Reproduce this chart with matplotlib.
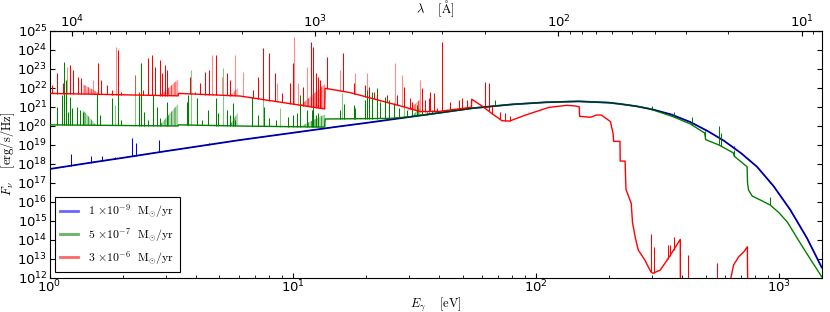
import numpy as np
import matplotlib
matplotlib.use("Agg")
import matplotlib.pyplot as plt
from matplotlib.lines import Line2D
from matplotlib.patches import Polygon
from matplotlib.ticker import LogLocator, NullLocator

# ---------------- data (log10 F_nu) ----------------
blue_E = [1.0, 1.5, 2.0, 3.0, 4.0, 6.0, 10, 15, 20, 30, 40, 55, 80, 110, 150, 200,
          223, 260, 305, 360, 432, 510, 593, 700, 813, 952, 1115, 1306, 1500]
blue_F = [17.72, 18.07, 18.31, 18.66, 18.90, 19.24, 19.63, 19.94, 20.15, 20.46, 20.68,
          20.93, 21.13, 21.24, 21.29, 21.22, 21.15, 21.03, 20.85, 20.60, 20.20, 19.72,
          19.22, 18.55, 17.84, 16.81, 15.56, 14.07, 12.53]
blue_line_E = [1.226, 1.486, 1.644, 1.866, 2.178, 2.276, 2.81, 4.53, 655, 922]
blue_line_F = [18.51, 18.41, 18.39, 18.35, 19.37, 19.09, 19.27, 19.08, 18.92, 16.98]

green_E = [1.0, 3.38, 3.39, 6.0, 13.55, 13.6, 25, 30, 40, 55, 80, 110, 150, 200, 223,
           260, 290, 330, 369, 432, 495, 500, 566, 650, 655, 740, 743, 750, 776, 850,
           922, 1000, 1081, 1226, 1350, 1500]
green_F = [20.05, 19.99, 20.05, 19.99, 19.93, 20.36, 20.39, 20.47, 20.68, 20.93, 21.13,
           21.24, 21.29, 21.22, 21.15, 21.03, 20.92, 20.68, 20.47, 20.10, 19.62, 19.27,
           18.99, 18.57, 18.40, 17.84, 17.00, 16.62, 16.30, 16.05, 15.82, 15.42, 14.94,
           13.80, 12.95, 12.04]
green_line_E = [1.07, 1.129, 1.151, 1.166, 1.195, 1.218, 1.242, 1.302, 1.335, 1.369,
                1.573, 1.614, 1.803, 1.908, 1.963, 2.342, 2.379, 2.456, 2.551, 2.658,
                2.761, 2.849, 3.035, 3.668, 3.727, 4.033, 4.229, 4.504, 4.845, 4.953,
                5.359, 5.531, 5.708, 5.799, 6.792, 7.235, 7.633, 8.029, 8.553, 9.612,
                10.08, 10.40, 10.74, 11.44, 11.99, 12.18, 12.49, 12.77, 15.69, 16.19,
                17.80, 18.08, 19.88, 20.20, 20.52, 21.17, 22.20, 22.91, 24.03, 24.80,
                26.00, 27.26, 29.49, 30.93, 32.43, 34.01, 35.66, 37.38, 68.12, 300.8,
                369, 440, 498, 566, 580, 655, 922]
green_line_F = [20.99, 21.62, 23.35, 22.42, 20.74, 21.54, 20.92, 20.99, 20.83, 20.74,
                21.71, 20.57, 21.45, 21.71, 20.31, 21.62, 23.30, 20.74, 20.31, 21.62,
                21.01, 20.40, 21.27, 21.27, 21.62, 21.45, 20.31, 20.83, 21.45, 20.66,
                20.83, 20.57, 21.19, 20.31, 21.54, 20.57, 21.01, 20.40, 20.31, 20.48,
                20.57, 20.66, 21.62, 20.83, 20.83, 21.27, 20.57, 20.66, 20.83, 21.15,
                21.10, 20.92, 21.36, 21.89, 21.54, 21.80, 21.98, 21.27, 21.54, 21.36,
                21.19, 20.92, 20.83, 21.01, 21.10, 21.01, 20.74, 20.83, 21.36, 21.04,
                20.75, 20.45, 19.74, 19.99, 19.60, 18.72, 16.26]
green_faint_E = [1.860, 2.248, 3.810, 5.160, 7.586, 8.884, 15.94, 28.58]
green_faint_F = [21.10, 22.68, 22.94, 23.03, 21.45, 20.92, 21.71, 21.62]

red_E = [1.0, 3.38, 3.39, 6.08, 13.55, 13.6, 17.24, 27.7, 33.4, 40, 54.4, 54.5, 60, 66,
         72.6, 78, 90, 113, 134, 145, 151, 151.5, 168, 178, 186, 203, 205, 208, 209, 222,
         222.5, 233, 235, 247, 250, 257, 264, 281, 297, 303, 325, 347, 369, 393, 393.5,
         612, 651, 684, 718, 742, 745]
red_F = [21.71, 21.58, 21.71, 21.57, 20.89, 21.98, 21.75, 21.05, 20.75, 20.76, 20.98,
         21.40, 21.05, 20.65, 20.27, 20.25, 20.55, 20.97, 21.08, 21.05, 21.00, 20.50,
         20.45, 20.57, 20.57, 20.22, 19.95, 19.60, 19.18, 19.18, 18.14, 18.14, 16.65,
         15.91, 14.90, 14.07, 13.45, 12.92, 12.31, 12.22, 12.39, 12.92, 13.45, 14.01,
         11.0, 11.0, 12.66, 13.10, 13.36, 13.62, 11.0]
red_line_E = [1.02, 1.07, 1.14, 1.214, 1.254, 1.314, 1.348, 1.578, 1.629, 1.719, 1.803,
              1.920, 1.969, 2.342, 2.433, 2.551, 2.633, 2.718, 2.849, 2.894, 2.987, 3.035,
              3.786, 3.970, 4.162, 4.364, 4.532, 4.845, 5.359, 5.531, 6.857, 7.235, 7.586,
              8.029, 8.472, 9.025, 9.766, 10.08, 11.08, 11.92, 12.11, 12.49, 12.77, 12.98,
              13.91, 16.09, 17.80, 19.88, 20.52, 21.51, 22.20, 22.91, 24.41, 26.84, 28.58,
              30.44, 30.93, 34.01, 35.10, 36.22, 36.80, 37.98, 39.19, 41.11, 44.48, 48.13,
              49.68, 52.09, 61.97, 63.96, 66.1, 71.4, 74.9, 78.5, 298.7, 305.2, 350,
              355.6, 369.2, 423, 557]
red_line_F = [22.15, 22.77, 22.24, 23.21, 22.94, 22.59, 22.50, 23.30, 22.42, 22.15, 21.89,
              24.00, 21.80, 21.80, 21.89, 23.56, 23.73, 23.12, 23.47, 22.77, 23.21, 22.94,
              22.59, 21.80, 22.24, 22.85, 22.94, 23.73, 22.77, 22.42, 21.89, 22.59, 24.09,
              23.82, 22.77, 21.71, 22.24, 23.30, 22.06, 24.44, 24.17, 22.77, 22.59, 22.42,
              23.65, 23.82, 22.24, 22.15, 22.06, 21.80, 21.62, 21.36, 21.62, 21.62, 22.06,
              21.45, 21.27, 21.98, 21.36, 21.45, 21.80, 21.71, 20.92, 24.44, 21.27, 21.36,
              21.45, 21.36, 22.33, 22.27, 21.10, 20.74, 20.66, 20.50, 14.28, 13.62, 13.71,
              13.71, 14.15, 13.19, 12.75]
red_faint_E = [1.177, 1.515, 1.878, 2.248, 4.649, 5.111, 5.799, 6.276, 8.607, 10.17,
               10.57, 11.44, 15.69, 18.08, 20.20, 26.41, 28.13, 33.47]
red_faint_F = [23.12, 22.42, 24.17, 22.68, 23.73, 22.59, 23.73, 22.85, 22.24, 24.70,
               22.24, 23.12, 22.94, 22.77, 22.77, 23.30, 22.68, 22.42]

# dense line clusters: start energy, end energy, log top at start, log top at end
green_clu_E0 = [1.37, 2.85, 5.50, 10.7, 30.5]
green_clu_E1 = [1.55, 3.38, 5.95, 13.55, 33.5]
green_clu_T0 = [20.85, 20.05, 20.00, 19.95, 20.45]
green_clu_T1 = [20.05, 21.15, 20.70, 20.60, 20.95]
red_clu_E0 = [1.37, 2.85, 5.50, 10.7, 30.0]
red_clu_E1 = [1.60, 3.38, 5.95, 13.55, 33.4]
red_clu_T0 = [22.20, 21.60, 21.55, 21.05, 20.80]
red_clu_T1 = [21.72, 22.45, 22.00, 22.20, 21.40]

labels = [r'$1\ {\times}10^{-9}\ \ \mathrm{M}_{\odot}/\mathrm{yr}$',
          r'$5\ {\times}10^{-7}\ \ \mathrm{M}_{\odot}/\mathrm{yr}$',
          r'$3\ {\times}10^{-6}\ \ \mathrm{M}_{\odot}/\mathrm{yr}$']
colors = ['#0000ff', '#008000', '#ff0000']

# ---------------- figure ----------------
plt.rcParams['hatch.linewidth'] = 0.6
W, H = 830, 312
fig = plt.figure(figsize=(W / 100, H / 100), dpi=100)
L, R, T, B = 49.5, 821.7, 31.0, 277.5
ax = fig.add_axes([L / W, 1 - B / H, (R - L) / W, (B - T) / H])


def base_at(E, cE, cF):
    return np.interp(np.log10(E), np.log10(cE), cF)


def draw_series(cE, cF, lE, lF, fE, fF, c0, c1, t0, t1, color, lw_cont=1.0):
    cE = np.asarray(cE, float)
    cF = np.asarray(cF, float)
    for e0, e1, a, b in zip(c0, c1, t0, t1):
        b0 = base_at(e0, cE, cF)
        b1 = base_at(e1, cE, cF)
        verts = [(e0, 10 ** b0), (e0, 10 ** a), (e1, 10 ** b), (e1, 10 ** b1)]
        ax.add_patch(Polygon(verts, closed=True, facecolor=color, edgecolor='none',
                             alpha=0.3, zorder=2))
        ax.add_patch(Polygon(verts, closed=True, facecolor='none', edgecolor=color,
                             lw=0, hatch='|||||', alpha=0.8, zorder=2))
    if fE:
        fE = np.asarray(fE, float)
        ax.vlines(fE, 10 ** base_at(fE, cE, cF), 10 ** np.asarray(fF), colors=color,
                  lw=0.8, alpha=0.45, zorder=2)
    lE = np.asarray(lE, float)
    ax.vlines(lE, 10 ** base_at(lE, cE, cF), 10 ** np.asarray(lF), colors=color,
              lw=0.75, zorder=3)
    ax.plot(cE, 10 ** cF, color=color, lw=lw_cont, zorder=3)


draw_series(blue_E, blue_F, blue_line_E, blue_line_F, [], [], [], [], [], [],
            colors[0], lw_cont=1.3)
draw_series(green_E, green_F, green_line_E, green_line_F, green_faint_E, green_faint_F,
            green_clu_E0, green_clu_E1, green_clu_T0, green_clu_T1, colors[1])
draw_series(red_E, red_F, red_line_E, red_line_F, red_faint_E, red_faint_F,
            red_clu_E0, red_clu_E1, red_clu_T0, red_clu_T1, colors[2])
# thin dark line along the blue continuum
ax.plot(blue_E, 10 ** np.asarray(blue_F), color='k', lw=0.6, alpha=0.7, zorder=4)

ax.set_xscale('log')
ax.set_yscale('log')
ax.set_xlim(1, 1500)
ax.set_ylim(1e12, 1e25)
ax.yaxis.set_major_locator(LogLocator(base=10, numticks=30))
ax.yaxis.set_minor_locator(NullLocator())
ax.tick_params(which='both', direction='in', top=False, right=True, labelsize=9.5)
ax.tick_params(axis='y', which='major', length=3.5, pad=1.5)
ax.tick_params(axis='x', which='major', length=3.5, pad=1.2)
ax.tick_params(axis='x', which='minor', length=2)

secax = ax.secondary_xaxis('top', functions=(lambda e: 12398.42 / np.asarray(e),
                                             lambda l: 12398.42 / np.asarray(l)))
secax.tick_params(which='both', direction='in', labelsize=9.5)
secax.tick_params(which='major', length=3.5, pad=0.6)
secax.tick_params(which='minor', length=2)
secax.set_xlabel(r'$\lambda\quad\ [\mathrm{\AA}]$', fontsize=9, math_fontfamily='cm',
                 labelpad=0)

ax.set_xlabel(r'$E_\gamma\quad\ [\mathrm{eV}]$', fontsize=9, math_fontfamily='cm',
              labelpad=-0.5)
ax.set_ylabel(r'$F_\nu\quad\ [\mathrm{erg/s/Hz}]$', fontsize=9, math_fontfamily='cm')
ax.yaxis.set_label_coords(-0.042, 0.5)

handles = [Line2D([], [], color=c, lw=2, alpha=0.6) for c in colors]
leg = ax.legend(handles, labels, loc='lower left', frameon=True,
                fancybox=False, edgecolor='k', framealpha=1, borderaxespad=0.45,
                handlelength=1.5, handletextpad=0.9, labelspacing=0.45,
                borderpad=0.45, prop={'math_fontfamily': 'cm', 'size': 8.5})
leg.get_frame().set_linewidth(0.8)

fig.savefig('out.png', dpi=100)
